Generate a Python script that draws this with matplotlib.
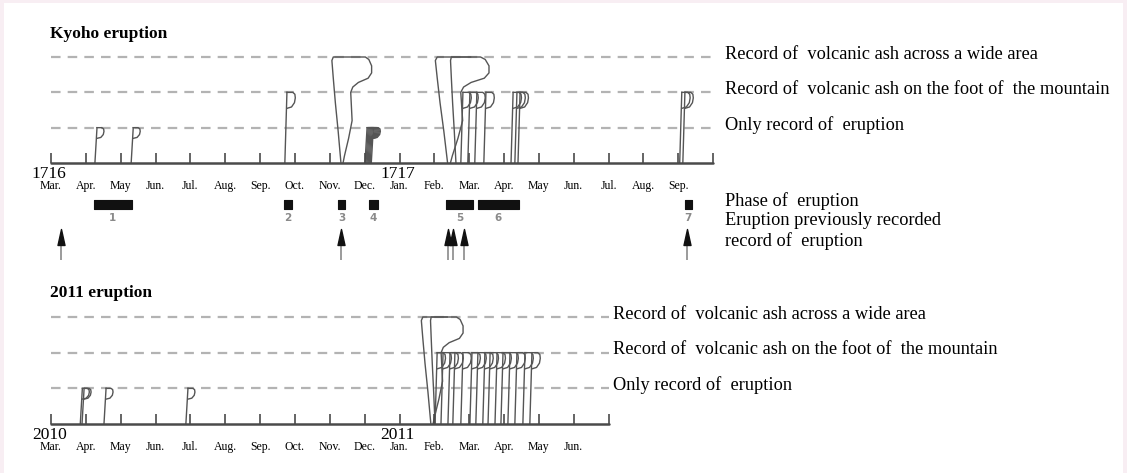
import numpy as np
import matplotlib
matplotlib.use('Agg')
import matplotlib.pyplot as plt
from matplotlib.patches import Rectangle
from matplotlib.path import Path

plt.rcParams['font.family'] = ['Liberation Serif', 'DejaVu Serif']

W, H = 1127, 473
X0, MONTH_PX = 51, 34.85

# ---- data ----
kyoho_months = ['Mar.', 'Apr.', 'May', 'Jun.', 'Jul.', 'Aug.', 'Sep.', 'Oct.', 'Nov.', 'Dec.',
                'Jan.', 'Feb.', 'Mar.', 'Apr.', 'May', 'Jun.', 'Jul.', 'Aug.', 'Sep.']
kyoho_years = ['1716', '1717']
kyoho_year_pos = [0, 10]
# months since start of axis (Mar. 1716 = 0)
kyoho_level1 = [1.32, 2.36, 9.07, 9.10, 9.13, 9.16, 9.19, 9.22, 9.25]
kyoho_level2 = [6.77, 11.82, 12.02, 12.22, 12.48, 13.26, 13.37, 13.46, 18.10, 18.19]
kyoho_level3 = [8.32, 11.38]
kyoho_level3_inner = [11.62]
kyoho_phase_start = [1.23, 6.69, 8.24, 9.12, 11.33, 12.25, 18.19]
kyoho_phase_end = [2.32, 6.92, 8.44, 9.38, 12.11, 13.43, 18.39]
kyoho_phase_labels = ['1', '2', '3', '4', '5', '6', '7']
kyoho_prev_records = [0.29, 8.32, 11.39, 11.53, 11.85, 18.25]

s2011_months = ['Mar.', 'Apr.', 'May', 'Jun.', 'Jul.', 'Aug.', 'Sep.', 'Oct.', 'Nov.', 'Dec.',
                'Jan.', 'Feb.', 'Mar.', 'Apr.', 'May', 'Jun.']
s2011_years = ['2010', '2011']
s2011_year_pos = [0, 10]
s2011_level1 = [0.90, 0.95, 1.58, 3.93]
s2011_level2 = [11.08, 11.25, 11.45, 11.59, 11.82, 12.08, 12.25, 12.45, 12.60, 12.80,
                12.97, 13.17, 13.37, 13.60, 13.80]
s2011_level3 = [10.90]
s2011_level3_inner = [11.02]

level_names = ['Only record of  eruption',
               'Record of  volcanic ash on the foot of  the mountain',
               'Record of  volcanic ash across a wide area']
legend_names = ['Phase of  eruption', 'Eruption previously recorded', 'record of  eruption']

# ---- style ----
LINE = '#555555'
AXC = '#4a4a4a'
DASH = '#b3b3b3'

# flag-shaped plume outline (dx in months, height in levels)
FLAG = np.array([(0.00, 0.00), (-0.08, 0.9), (-0.16, 1.7), (-0.22, 2.4), (-0.26, 2.9),
                 (-0.22, 3.0), (0.70, 3.0), (0.80, 2.93), (0.88, 2.75), (0.88, 2.55),
                 (0.78, 2.40), (0.50, 2.28), (0.34, 2.15), (0.28, 2.0), (0.30, 1.6),
                 (0.32, 1.2), (0.22, 0.7), (0.10, 0.2), (0.06, 0.0)])
# "P"-shaped hook at the top of a small plume (fractions of hook width / height)
HOOK = np.array([(0.0, 0.0), (0.7, 0.0), (0.95, 0.12), (1.0, 0.35), (0.9, 0.65),
                 (0.55, 0.92), (0.05, 1.0)])

fig = plt.figure(figsize=(W / 100, H / 100), dpi=100, facecolor='#f8eef3')
fig.add_artist(Rectangle((4 / W, 0), (W - 8) / W, (H - 3) / H, transform=fig.transFigure,
                         facecolor='white', edgecolor='none', zorder=-10))


def panel(row_from, row_to, row_base, row_top):
    ax = fig.add_axes([0, 1 - row_to / H, 1, (row_to - row_from) / H])
    unit = (row_base - row_top) / 3
    ax.set_xlim(-X0 / MONTH_PX, (W - X0) / MONTH_PX)
    ax.set_ylim(-(row_to - row_base) / unit, (row_base - row_from) / unit)
    ax.axis('off')
    ax.patch.set_alpha(0)
    return ax


def draw_frame(ax, months, years, year_pos, title, label_x):
    n = len(months)
    ax.hlines([1, 2, 3], 0, n, colors=DASH, lw=1.6, linestyles=(0, (4.3, 3.2)))
    ax.plot([0, n], [0, 0], color=AXC, lw=1.8, solid_capstyle='round', zorder=5)
    ax.vlines(np.arange(n + 1), 0, 0.28, colors=AXC, lw=1.2, zorder=5)
    for i, lab in enumerate(months):
        ax.text(i, -0.64, lab, ha='center', va='center', fontsize=8.5)
    for p, y in zip(year_pos, years):
        ax.text(p - 0.05, -0.30, y, ha='center', va='center', fontsize=12.5)
    ax.text(-0.03, 3.66, title, ha='left', va='center', fontsize=12.5, fontweight='bold')
    for lev, name in zip([1, 2, 3], level_names):
        ax.text(label_x, lev + 0.08, name, ha='left', va='center', fontsize=13.2)


def draw_pop(ax, m, lev, w, h):
    ax.plot([m - 0.06, m], [0, lev], color=LINE, lw=1.0, zorder=3)
    ax.plot(m + HOOK[:, 0] * w, lev - HOOK[:, 1] * h, color=LINE, lw=1.0,
            solid_joinstyle='round', zorder=3)


def draw_flag(ax, m, sx, full=True):
    pts = FLAG.copy()
    pts[:, 0] = m + pts[:, 0] * sx
    if not full:
        pts = pts[:7]
    ax.plot(pts[:, 0], pts[:, 1], color=LINE, lw=1.0, solid_joinstyle='round', zorder=3)


# ---- Kyoho panel ----
ax1 = panel(0, 280, 163, 57)
draw_frame(ax1, kyoho_months, kyoho_years, kyoho_year_pos, 'Kyoho eruption', 19.34)
for m in kyoho_level1:
    draw_pop(ax1, m, 1, 0.2, 0.3)
for m in kyoho_level2:
    draw_pop(ax1, m, 2, 0.24, 0.45)
for m in kyoho_level3:
    draw_flag(ax1, m, 1.0 if m < 10 else 1.35)
for m in kyoho_level3_inner:
    draw_flag(ax1, m, 0.6, full=False)

starts = np.array(kyoho_phase_start)
ends = np.array(kyoho_phase_end)
ax1.barh(-1.17, ends - starts, left=starts, height=0.25, color='#111111',
         edgecolor='#111111', lw=0.8, joinstyle='round')
for s, e, lab in zip(starts, ends, kyoho_phase_labels):
    ax1.text((s + e) / 2, -1.57, lab, ha='center', va='center', fontsize=7.5,
             color='#8a8a8a', fontweight='bold', family='DejaVu Sans')

arrow = Path([(-0.22, -0.5), (0.22, -0.5), (0, 0.5), (-0.22, -0.5)],
             [Path.MOVETO, Path.LINETO, Path.LINETO, Path.CLOSEPOLY])
ax1.vlines(kyoho_prev_records, -2.75, -2.25, colors='#8a8a8a', lw=1.2)
ax1.plot(kyoho_prev_records, [-2.1] * len(kyoho_prev_records), ls='none', marker=arrow,
         ms=11.5, color='#111111')

for lev, name in zip([-1.08, -1.64, -2.21], legend_names):
    ax1.text(19.34, lev, name, ha='left', va='center', fontsize=13.2)

# ---- 2011 panel ----
ax2 = panel(280, 473, 424, 317)
draw_frame(ax2, s2011_months, s2011_years, s2011_year_pos, '2011 eruption', 16.13)
for m in s2011_level1:
    draw_pop(ax2, m, 1, 0.2, 0.3)
for m in s2011_level2:
    draw_pop(ax2, m, 2, 0.24, 0.45)
for m in s2011_level3:
    draw_flag(ax2, m, 1.05)
for m in s2011_level3_inner:
    draw_flag(ax2, m, 0.5, full=False)

fig.savefig('out.png', dpi=100, facecolor=fig.get_facecolor())
